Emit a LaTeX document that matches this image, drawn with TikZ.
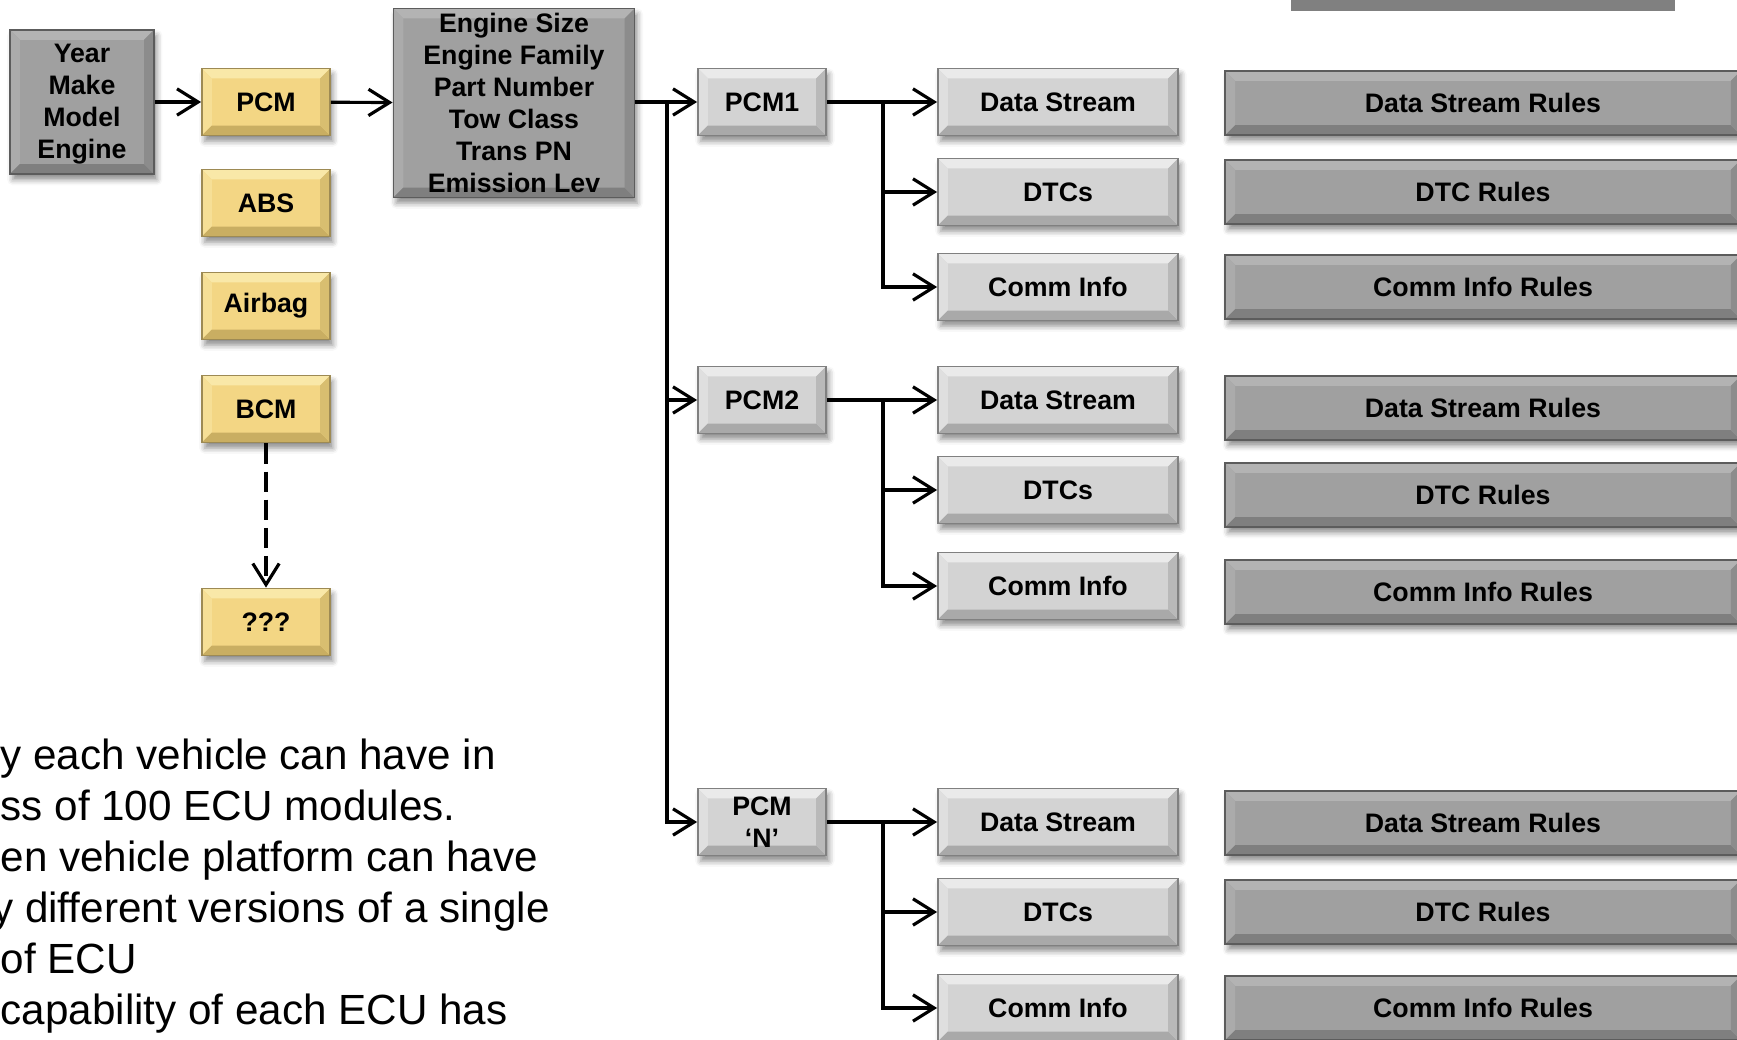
\documentclass[tikz,border=0pt]{standalone}
\usepackage{fontspec}
\setmainfont{Liberation Sans}
\usepackage{xcolor}
\usetikzlibrary{arrows.meta, shadows.blur}

\definecolor{YellowFace}{HTML}{F3D684}
\definecolor{YellowTop}{HTML}{F9E8A8}
\definecolor{YellowLeft}{HTML}{F6DF96}
\definecolor{YellowBottom}{HTML}{C9AE62}
\definecolor{YellowRight}{HTML}{D8BE70}
\definecolor{YellowEdge}{HTML}{9D8A54}
\definecolor{LightFace}{HTML}{D3D3D3}
\definecolor{LightTop}{HTML}{EAEAEA}
\definecolor{LightLeft}{HTML}{DFDFDF}
\definecolor{LightBottom}{HTML}{A9A9A9}
\definecolor{LightRight}{HTML}{B9B9B9}
\definecolor{LightEdge}{HTML}{808080}
\definecolor{DarkFace}{HTML}{A0A0A0}
\definecolor{DarkTop}{HTML}{B3B3B3}
\definecolor{DarkLeft}{HTML}{ABABAB}
\definecolor{DarkBottom}{HTML}{7F7F7F}
\definecolor{DarkRight}{HTML}{8C8C8C}
\definecolor{DarkEdge}{HTML}{5C5C5C}
\definecolor{BarGrey}{HTML}{808080}

\tikzset{
  Bevel/.style n args={4}{path picture={
    \fill[#1] (path picture bounding box.north west) -- (path picture bounding box.north east)
      -- ([shift={(-2.8pt,-2.8pt)}]path picture bounding box.north east)
      -- ([shift={(2.8pt,-2.8pt)}]path picture bounding box.north west) -- cycle;
    \fill[#2] (path picture bounding box.north west) -- ([shift={(2.8pt,-2.8pt)}]path picture bounding box.north west)
      -- ([shift={(2.8pt,2.8pt)}]path picture bounding box.south west) -- (path picture bounding box.south west) -- cycle;
    \fill[#3] (path picture bounding box.south west) -- ([shift={(2.8pt,2.8pt)}]path picture bounding box.south west)
      -- ([shift={(-2.8pt,2.8pt)}]path picture bounding box.south east) -- (path picture bounding box.south east) -- cycle;
    \fill[#4] (path picture bounding box.south east) -- ([shift={(-2.8pt,2.8pt)}]path picture bounding box.south east)
      -- ([shift={(-2.8pt,-2.8pt)}]path picture bounding box.north east) -- (path picture bounding box.north east) -- cycle;
  }}
}

\begin{document}
\begin{tikzpicture}[x=0.01cm, y=-0.01cm]
      \useasboundingbox (0,0) rectangle (1737,1040);
      \clip (0,0) rectangle (1737,1040);
      \tikzstyle{Box} = [rectangle, line width=0.5pt, inner sep=0pt, align=center,
        minimum width=1.28cm, minimum height=0.67cm,
        font=\bfseries\fontsize{7.6}{9.1}\selectfont,
        blur shadow={shadow xshift=0.8pt, shadow yshift=-1.6pt, shadow blur radius=1.6pt, shadow opacity=45}]
      \tikzstyle{YellowBox} = [Box, fill=YellowFace, draw=YellowEdge,
        Bevel={YellowTop}{YellowLeft}{YellowBottom}{YellowRight}]
      \tikzstyle{LightBox} = [Box, fill=LightFace, draw=LightEdge,
        Bevel={LightTop}{LightLeft}{LightBottom}{LightRight}]
      \tikzstyle{DarkBox} = [Box, fill=DarkFace, draw=DarkEdge,
        Bevel={DarkTop}{DarkLeft}{DarkBottom}{DarkRight}]
      \tikzstyle{DataBox} = [LightBox, minimum width=2.40cm]
      \tikzstyle{RuleBox} = [DarkBox, minimum width=5.15cm, minimum height=0.64cm]
      \tikzstyle{Link} = [line width=0.9pt, -{Straight Barb[length=6pt, width=7.5pt]}]

      \fill[BarGrey] (1291,0) rectangle (1675,11);

      \node[DarkBox, minimum width=1.44cm, minimum height=1.44cm] (year) at (82,102) {\strut Year\\Make\\Model\\Engine};
      \node[YellowBox] (pcm) at (266,102) {PCM};
      \node[YellowBox] (abs) at (266,203) {ABS};
      \node[YellowBox] (airbag) at (266,306) {Airbag};
      \node[YellowBox] (bcm) at (266,409) {BCM};
      \node[YellowBox] (unknown) at (266,622) {???};
      \node[DarkBox, minimum width=2.41cm, minimum height=1.89cm] (engine) at (514,103)
        {Engine Size\\Engine Family\\Part Number\\Tow Class\\Trans PN\\Emission Lev};

      \node[LightBox] (pcm1) at (762,102) {PCM1};
      \node[LightBox] (pcm2) at (762,400) {PCM2};
      \node[LightBox] (pcmn) at (762,822) {PCM\\`N'};

      \node[DataBox] (stream1) at (1058,102) {Data Stream};
      \node[DataBox] (dtc1) at (1058,192) {DTCs};
      \node[DataBox] (comm1) at (1058,287) {Comm Info};
      \node[DataBox] (stream2) at (1058,400) {Data Stream};
      \node[DataBox] (dtc2) at (1058,490) {DTCs};
      \node[DataBox] (comm2) at (1058,586) {Comm Info};
      \node[DataBox] (stream3) at (1058,822) {Data Stream};
      \node[DataBox] (dtc3) at (1058,912) {DTCs};
      \node[DataBox] (comm3) at (1058,1008) {Comm Info};

      \node[RuleBox] (streamrules1) at (1483,103) {Data Stream Rules};
      \node[RuleBox] (dtcrules1) at (1483,192) {DTC Rules};
      \node[RuleBox] (commrules1) at (1483,287) {Comm Info Rules};
      \node[RuleBox] (streamrules2) at (1483,408) {Data Stream Rules};
      \node[RuleBox] (dtcrules2) at (1483,495) {DTC Rules};
      \node[RuleBox] (commrules2) at (1483,592) {Comm Info Rules};
      \node[RuleBox] (streamrules3) at (1483,823) {Data Stream Rules};
      \node[RuleBox] (dtcrules3) at (1483,912) {DTC Rules};
      \node[RuleBox] (commrules3) at (1483,1008) {Comm Info Rules};

      \draw[Link] (year) -- (pcm);
      \draw[Link] (pcm) -- (engine);
      \draw[Link] (engine.east |- pcm1.west) -- (pcm1.west);
      \draw[Link, dash pattern=on 5.8pt off 2.2pt] (bcm) -- (unknown);

      \coordinate (split) at (667,102);
      \draw[Link] (split) |- (pcm2);
      \draw[Link] (split) |- (pcmn);

      \coordinate (split1) at (883,102);
      \draw[Link] (pcm1) -- (stream1);
      \draw[Link] (split1) |- (dtc1);
      \draw[Link] (split1) |- (comm1);
      \coordinate (split2) at (883,400);
      \draw[Link] (pcm2) -- (stream2);
      \draw[Link] (split2) |- (dtc2);
      \draw[Link] (split2) |- (comm2);
      \coordinate (split3) at (883,822);
      \draw[Link] (pcmn) -- (stream3);
      \draw[Link] (split3) |- (dtc3);
      \draw[Link] (split3) |- (comm3);

      \node[anchor=north west, inner sep=0pt, align=left, font=\fontsize{12}{14.5}\selectfont] (notes) at (0,738)
        {y each vehicle can have in\\ss of 100 ECU modules.\\en vehicle platform can have\\
         \hspace*{-2.4pt}y different versions of a single\\of ECU\\capability of each ECU has};
    \end{tikzpicture}
\end{document}
